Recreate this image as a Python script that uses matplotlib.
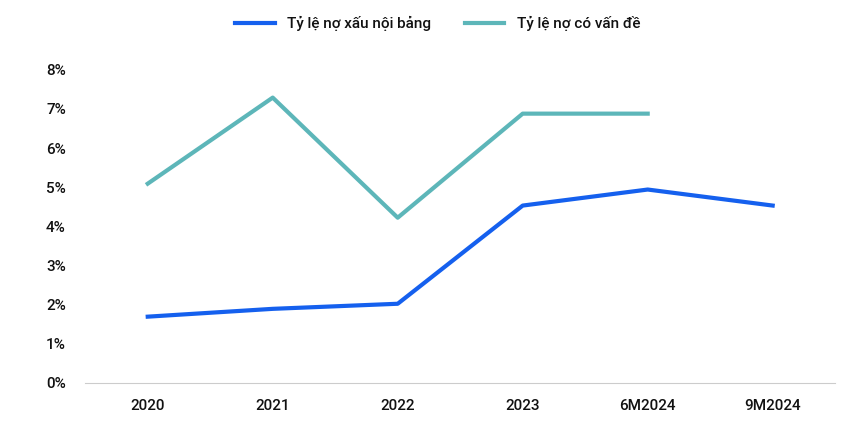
import matplotlib.pyplot as plt
from matplotlib.ticker import PercentFormatter

plt.rcParams['font.family'] = ['Roboto', 'DejaVu Sans']

periods = ["2020", "2021", "2022", "2023", "6M2024", "9M2024"]
npl = [1.69, 1.89, 2.02, 4.53, 4.94, 4.53]
problem = [5.09, 7.29, 4.22, 6.88, 6.88]

fig = plt.figure(figsize=(8.61, 4.42), dpi=100)
ax = fig.add_axes([0.099, 0.134, 0.871, 0.708])

x = list(range(len(periods)))
ax.plot(x, npl, color="#1560EE", lw=3, label="Tỷ lệ nợ xấu nội bảng")
ax.plot(x[:len(problem)], problem, color="#5DB6B9", lw=3, label="Tỷ lệ nợ có vấn đề")

ax.set_xlim(-0.5, 5.5)
ax.set_ylim(0, 8)
ax.set_xticks(x)
ax.set_xticklabels(periods, fontsize=11, color="#111111", fontweight="medium")
ax.set_yticks(range(0, 9))
ax.yaxis.set_major_formatter(PercentFormatter(decimals=0))
for lbl in ax.get_yticklabels():
    lbl.set_fontweight("medium")
ax.tick_params(axis='y', labelsize=11, colors="#111111", length=0, pad=14)
ax.tick_params(axis='x', length=0, pad=12)
for s in ["top", "right", "left"]:
    ax.spines[s].set_visible(False)
ax.spines["bottom"].set_color("#cccccc")

leg = ax.legend(loc="upper center", bbox_to_anchor=(0.47, 1.215), ncol=2, frameon=False,
                fontsize=11, handlelength=2.6, columnspacing=2.2)
for t in leg.get_texts():
    t.set_fontweight("medium")
    t.set_color("#111111")

fig.savefig("out.png", dpi=100)
